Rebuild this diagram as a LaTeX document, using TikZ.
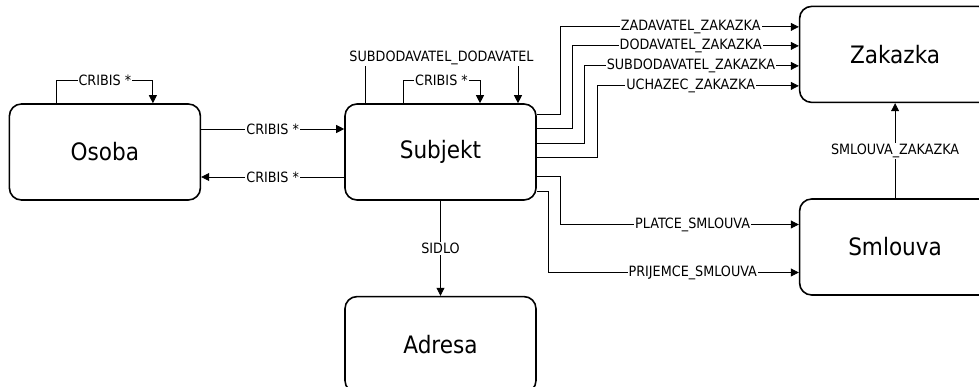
\documentclass[tikz,border=0pt]{standalone}
\usepackage{fontspec}
\setmainfont{DejaVu Sans Condensed}
\usetikzlibrary{arrows.meta,positioning}

\begin{document}
\begin{tikzpicture}[node distance=95pt,
ent/.style={draw,line width=1.6pt,rounded corners=12pt,minimum width=191pt,minimum height=96pt,font=\fontsize{24}{28}\selectfont},
lbl/.style={fill=white,inner sep=1pt,font=\fontsize{14.2}{16}\selectfont},
arr/.style={-{Triangle[length=8pt,width=8pt]},line width=0.8pt}]
\useasboundingbox (-440.5pt,-235pt) rectangle (538.5pt,152pt);
\node[ent](su){Subjekt};
\node[ent](os)[left=143pt of su]{Osoba};
\node[ent](ad)[below=of su]{Adresa};
\node[ent](za)[above right=0pt and 262pt of su]{Zakazka};
\node[ent](sm)[below=of za]{Smlouva};
\draw[arr]([xshift=-48pt]os.north)--++(0,23pt)-|node[lbl,pos=.25]{CRIBIS *}([xshift=48pt]os.north);
\draw[arr]([yshift=23pt]os.east)--node[lbl]{CRIBIS *}([yshift=23pt]su.west);
\draw[arr]([yshift=-25pt]su.west)--node[lbl]{CRIBIS *}([yshift=-25pt]os.east);
\draw[arr]([xshift=-37.5pt]su.north)--++(0,23pt)-|node[lbl,pos=.25]{CRIBIS *}([xshift=39.5pt]su.north);
\draw[arr]([xshift=-75.5pt]su.north)--++(0,45pt)-|node[lbl,pos=.25]{SUBDODAVATEL\_DODAVATEL}([xshift=77.5pt]su.north);
\draw[arr]([yshift=38pt]su.east)--++(24pt,0)|-node[lbl,pos=.773]{ZADAVATEL\_ZAKAZKA}([yshift=27.5pt]za.west);
\draw[arr]([yshift=24pt]su.east)--++(36pt,0)|-node[lbl,pos=.761]{DODAVATEL\_ZAKAZKA}([yshift=8.5pt]za.west);
\draw[arr]([yshift=9pt]su.east)--++(48pt,0)|-node[lbl,pos=.748]{SUBDODAVATEL\_ZAKAZKA}([yshift=-11.5pt]za.west);
\draw[arr]([yshift=-5pt]su.east)--++(61pt,0)|-node[lbl,pos=.731]{UCHAZEC\_ZAKAZKA}([yshift=-31.5pt]za.west);
\draw[arr]([yshift=-24pt]su.east)--++(24pt,0)|-node[lbl,pos=.777]{PLATCE\_SMLOUVA}([yshift=22.5pt]sm.west);
\draw[arr]([yshift=-39pt]su.east)--++(12pt,0)|-node[lbl,pos=.788]{PRIJEMCE\_SMLOUVA}([yshift=-25.5pt]sm.west);
\draw[arr](su)--node[lbl]{SIDLO}(ad);
\draw[arr](sm)--node[lbl]{SMLOUVA\_ZAKAZKA}(za);
\end{tikzpicture}
\end{document}
